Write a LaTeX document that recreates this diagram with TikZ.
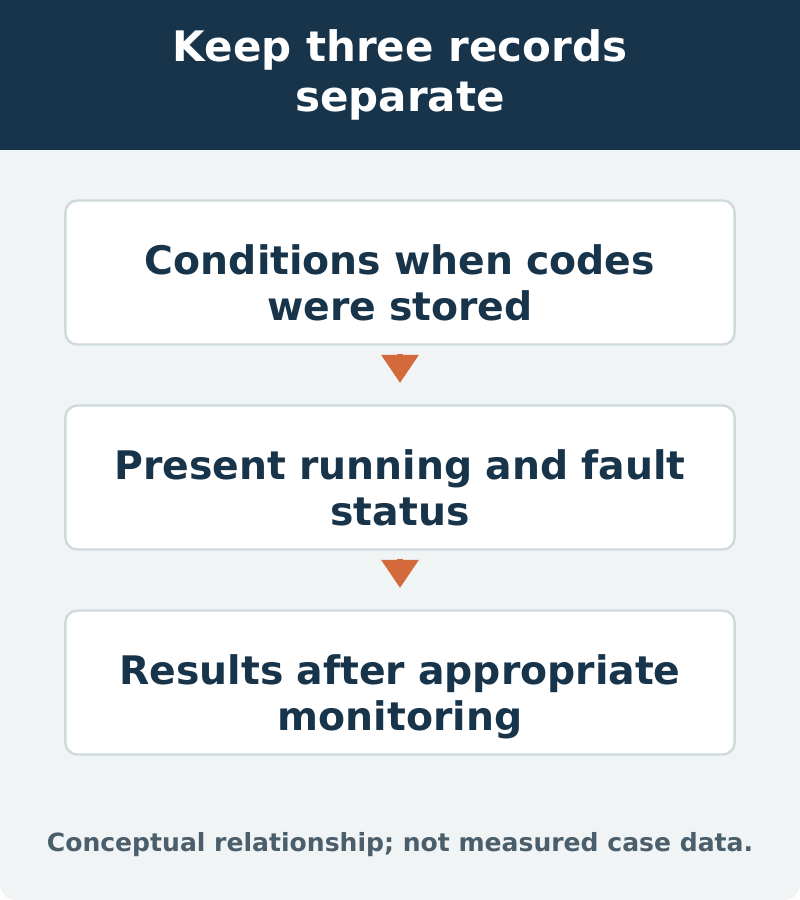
\documentclass[tikz,border=0pt]{standalone}
\usepackage{fontspec}
\setmainfont{DejaVu Sans}
\usetikzlibrary{positioning,arrows.meta}
\definecolor{navy}{HTML}{17344A}
\definecolor{paper}{HTML}{F0F4F5}
\definecolor{edge}{HTML}{CFDADD}
\definecolor{rust}{HTML}{D4693B}
\definecolor{note}{HTML}{4A5F6B}
\tikzset{
  record/.style={draw=edge,line width=1.8pt,fill=white,rounded corners=9pt,
    minimum width=502pt,minimum height=108pt,align=center,text width=480pt,
    text depth=20pt,
    font=\bfseries\fontsize{29.5}{34.5}\selectfont,text=navy},
  flow/.style={rust,line width=4.5pt,-{Triangle[width=27pt,length=21pt]},
    shorten <=6pt,shorten >=16pt}
}
\begin{document}
\begin{tikzpicture}[x=0.75pt,y=-0.75pt]

%Backdrop
\useasboundingbox (0,0) rectangle (800,900);
\fill[paper,rounded corners=12pt] (0,0) rectangle (800,900);
\fill[navy] (0,0) rectangle (800,150);

%Title
\node[align=center,text=white,font=\bfseries\fontsize{31.5}{37.5}\selectfont] (title) at (400,75)
  {Keep three records\\separate};

%Records
\node[record] (stored) at (400,272.5) {Conditions when codes\\were stored};
\node[record] (present) at (400,477.5) {Present running and fault\\status};
\node[record] (monitor) at (400,682.5) {Results after appropriate\\monitoring};

%Flow
\draw[flow] (stored.south) -- (present.north);
\draw[flow] (present.south) -- (monitor.north);

%Footnote
\node[text=note,font=\bfseries\fontsize{18.8}{22}\selectfont] (foot) at (400,845)
  {Conceptual relationship; not measured case data.};

\end{tikzpicture}
\end{document}
